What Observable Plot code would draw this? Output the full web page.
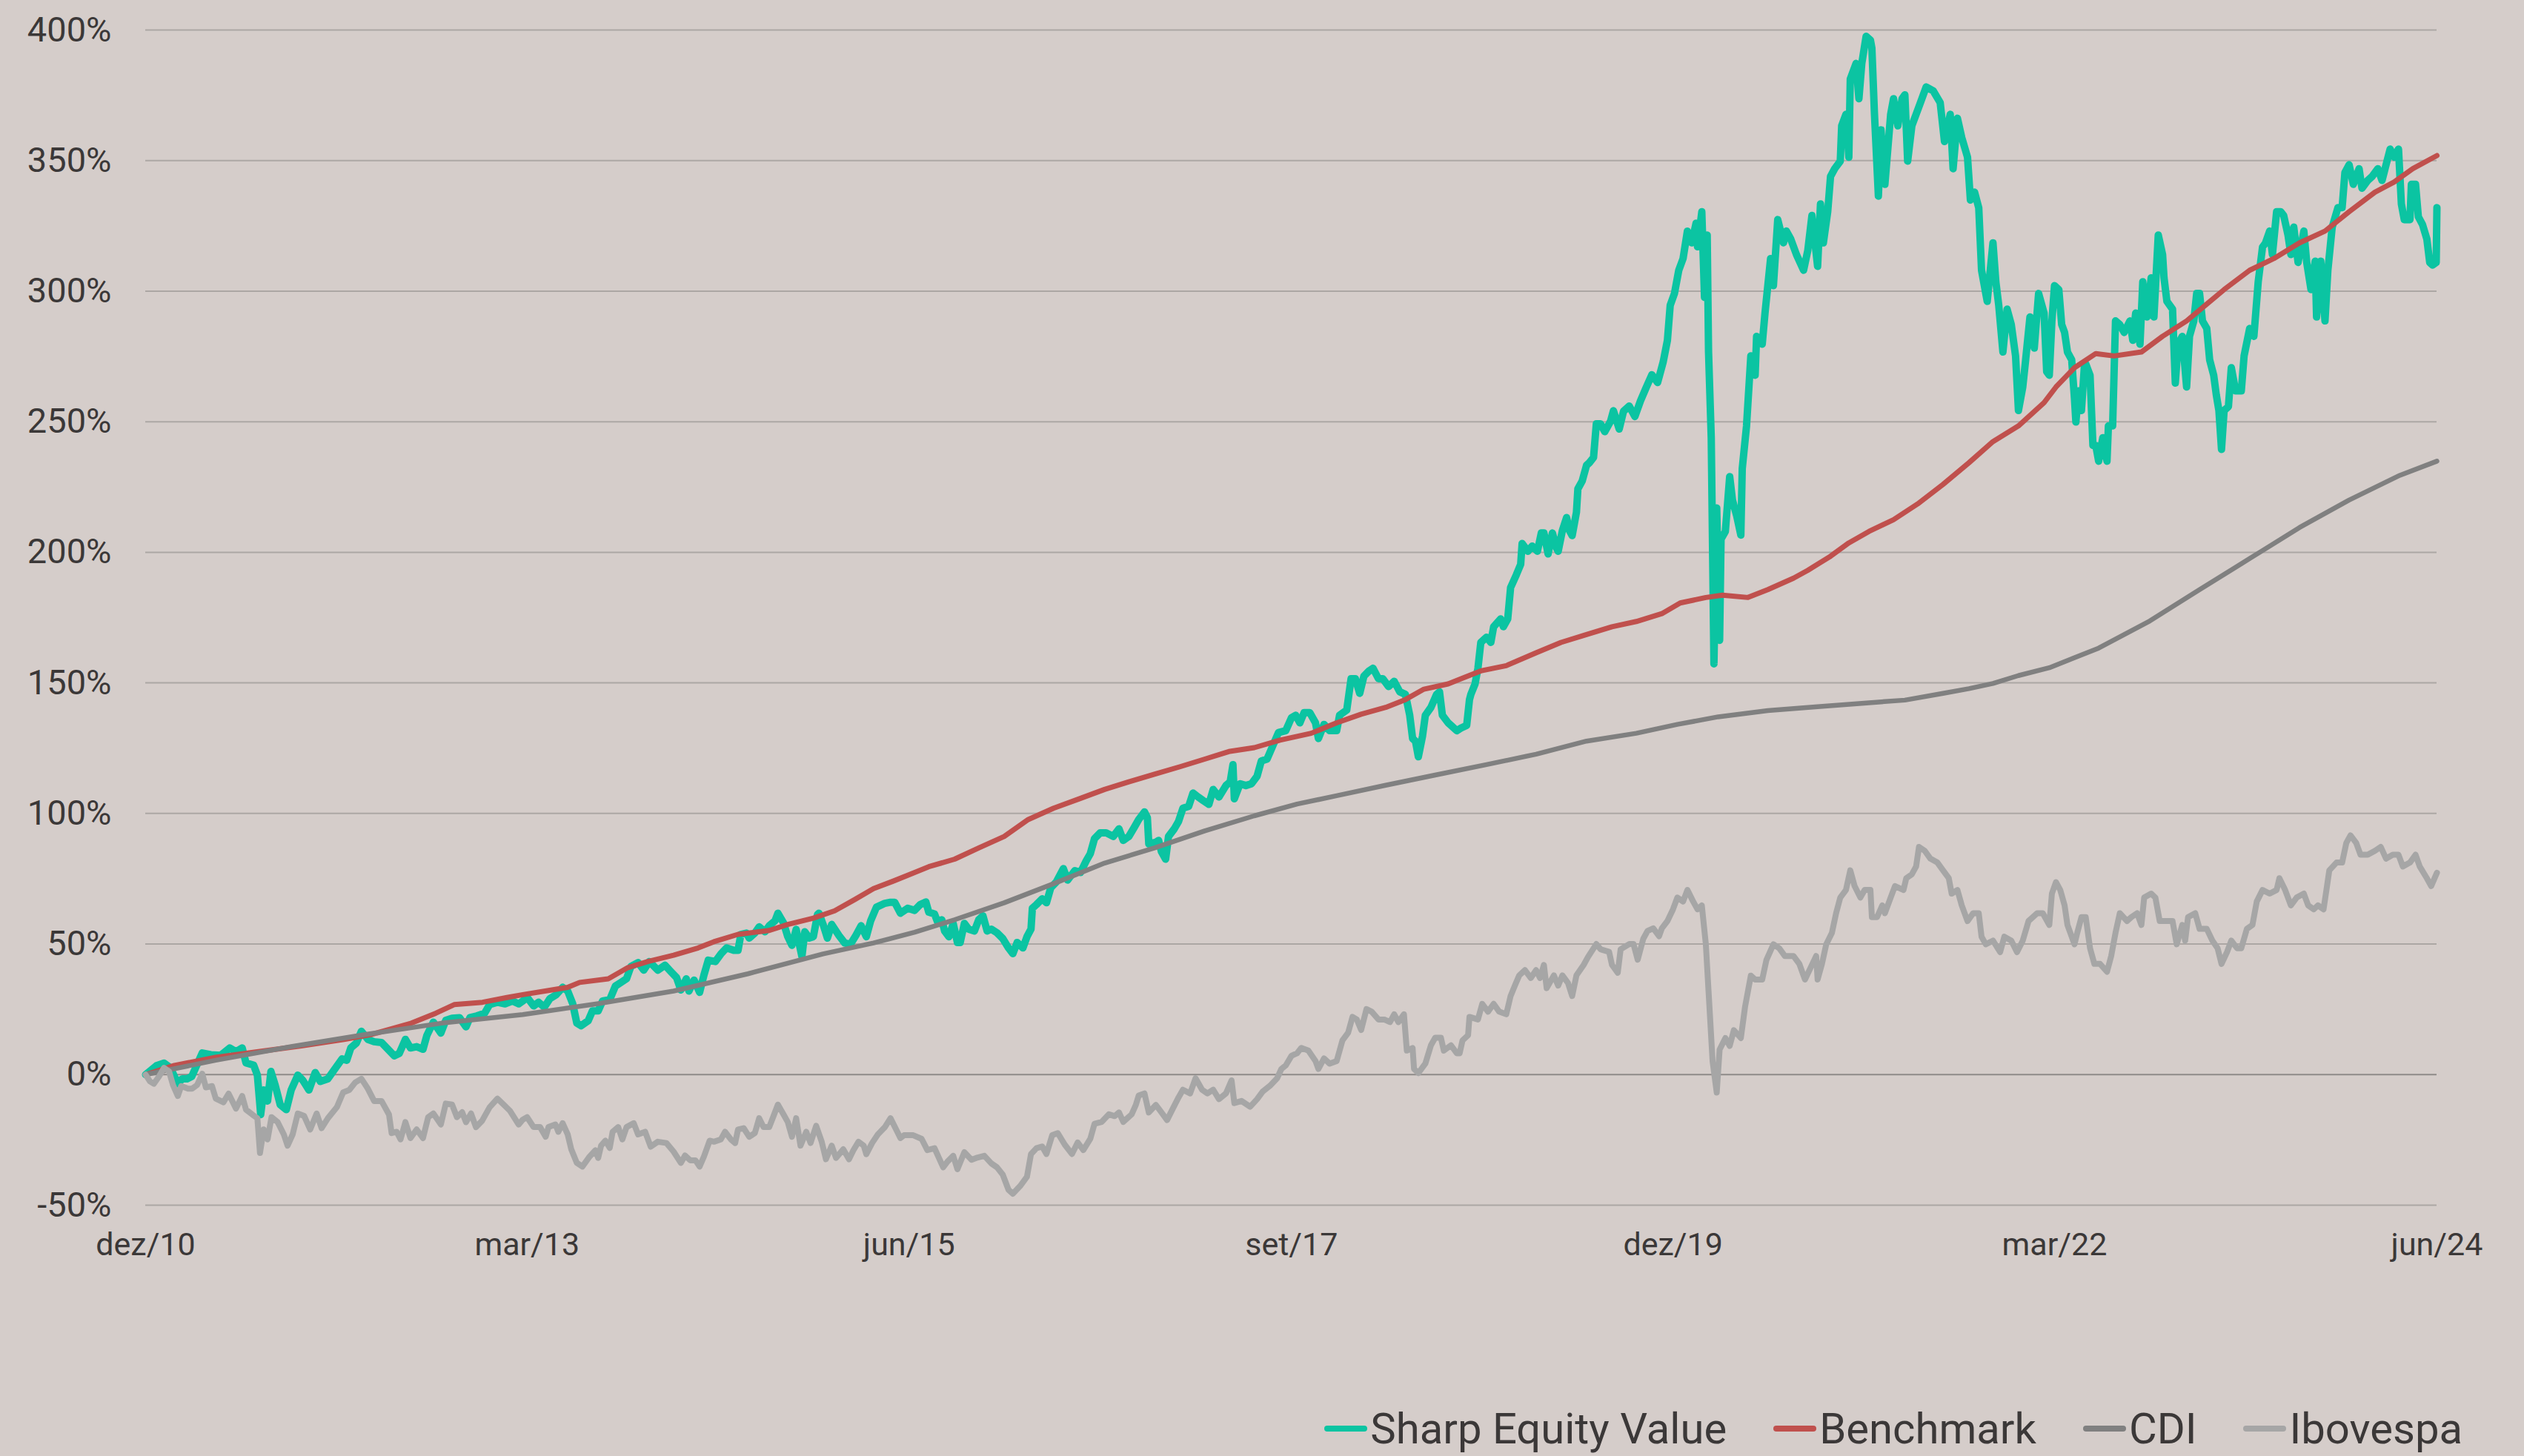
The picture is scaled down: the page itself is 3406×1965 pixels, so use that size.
<!DOCTYPE html>
<html><head><meta charset="utf-8">
<script src="https://cdn.jsdelivr.net/npm/d3@7"></script>
<script src="https://cdn.jsdelivr.net/npm/@observablehq/plot@0.6"></script>
<style>
html,body{margin:0;padding:0;background:#d5cdca;}
#wrap{position:relative;width:3406px;height:1965px;overflow:hidden;font-family:Roboto,sans-serif;color:#3b3838;background:#d5cdca;}
#chart svg{display:block;}
#legend{position:absolute;right:83px;top:1894px;display:flex;align-items:center;font-size:58px;line-height:normal;white-space:nowrap;}
.item{display:flex;align-items:center;margin-left:63px;}
.item:first-child{margin-left:0;}
.sw{width:58px;height:8px;border-radius:4px;margin-right:4px;}
</style></head>
<body><div id="wrap"><div id="chart"></div><div id="legend"></div></div>
<script>
// Series: [months after dez/10, cumulative return in %]
const seriesNames = ["Sharp Equity Value", "Benchmark", "CDI", "Ibovespa"];
const seriesColors = ["#0bc4a2", "#c0504d", "#808080", "#a6a6a6"];
const xTickMonths = [0, 27, 54, 81, 108, 135, 162];
const xTickLabels = ["dez/10", "mar/13", "jun/15", "set/17", "dez/19", "mar/22", "jun/24"];
const yTicks = [-50, 0, 50, 100, 150, 200, 250, 300, 350, 400];

const sharpEquity = [
[0,0],[0.75,3.4],[1.28,4.4],[1.72,2.6],[2.26,-3.5],[2.6,-1.6],[2.97,-1.6],[3.3,-0.7],[4.03,8.3],[4.65,7.6],[5.35,7.4],[5.97,10.2],[6.42,8.8],[6.86,10.2],[7.13,4.5],[7.66,3.6],[7.92,-0.2],[8.15,-15.3],[8.36,-5.9],[8.63,-10.1],[8.86,1.2],[9.16,-4],[9.52,-11.5],[9.96,-13.4],[10.3,-5.9],[10.76,-0.2],[11.1,-2.1],[11.55,-5.9],[12.0,0.8],[12.35,-2.6],[12.88,-1.6],[13.3,1.7],[13.86,6],[14.2,5.5],[14.5,10.2],[14.92,12.1],[15.27,16.6],[15.72,13.5],[16.16,12.6],[16.69,12.3],[17.22,9.3],[17.58,7.2],[17.93,8.1],[18.37,13.5],[18.73,10.2],[19.17,10.7],[19.61,9.7],[19.88,15],[20.33,20.1],[20.85,15.9],[21.2,20.8],[21.65,21.6],[22.18,21.8],[22.63,18.3],[22.9,21.8],[23.4,22.5],[23.95,23.5],[24.3,26.8],[24.84,27.7],[25.37,27.1],[25.9,28.2],[26.35,27.1],
[26.67,28.2],[27.0,29.6],[27.45,26.3],[27.8,27.7],[28.2,25.8],[28.6,29.1],[29.05,30.6],[29.5,33.4],[29.85,32],[30.2,27.2],[30.5,19.7],[30.8,18.7],[31.3,20.6],[31.6,24.4],[32.0,24.4],[32.3,28.2],[32.8,28.7],[33.2,33.9],[33.6,35.3],[34.0,36.7],[34.3,41.4],[34.8,42.9],[35.2,40],[35.6,43.3],[36.2,40],[36.7,41.9],[37.1,39.5],[37.5,37.2],[37.8,32.4],[38.2,36.7],[38.4,32],[38.8,36.2],[39.2,31.5],[39.5,38.1],[39.8,43.8],[40.3,43.3],[40.7,46.2],[41.1,48.5],[41.6,47.6],[41.9,47.6],[42.1,53.7],[42.5,54.2],[42.7,52.3],[43.1,54.2],[43.4,56.6],[43.8,54.7],[44.1,57],[44.5,58.9],[44.7,61.8],[45.1,58],[45.4,52.8],[45.7,49.5],[46.0,55.6],[46.2,50.4],[46.4,45.2],[46.6,54.7],[46.9,52.3],[47.2,52.8],[47.5,61.3],[47.6,61.8],[47.9,57.5],[48.2,52.3],[48.5,57.5],[49.0,53.3],[49.4,50.4],[49.8,49.9],[50.2,53.3],[50.6,57],[51.0,52.8],[51.3,58.9],[51.7,64.1],[52.3,65.6],[52.7,66],[53.0,66],[53.4,61.8],[53.9,63.7],
[54.4,62.9],[54.8,65.1],[55.2,66.1],[55.4,62.2],[55.8,61.5],[56.0,58.6],[56.3,59.3],[56.5,55],[56.8,52.8],[57.1,57.9],[57.4,50.6],[57.6,50.6],[57.9,57.9],[58.2,55.7],[58.6,55],[58.9,59.3],[59.2,60.8],[59.5,55],[59.8,55.7],[60.2,54.3],[60.6,52.1],[61.0,48.5],[61.3,46.3],[61.6,50.6],[62.0,48.5],[62.3,52.8],[62.6,55.7],[62.7,63.7],[63.0,65.1],[63.4,67.3],[63.7,65.8],[64.0,71.6],[64.4,73.8],[64.9,78.9],[65.2,74.5],[65.7,78.1],[66.1,77.4],[66.5,81.8],[66.8,84.6],[67.1,90.4],[67.5,92.6],[67.9,92.6],[68.4,91.2],[68.8,94.1],[69.1,89.7],[69.5,91.2],[69.9,94.8],[70.2,97.7],[70.6,100.6],[70.8,98.4],[70.9,88.3],[71.4,89],[71.6,89.7],[71.8,85.4],[72.1,82.5],[72.3,91.2],[72.7,94.1],[73.0,97],[73.3,102],[73.7,102.7],[74.0,107.8],[74.4,106.3],[74.8,104.9],[75.2,103.5],[75.5,109.2],[75.9,106.3],[76.4,110.7],[76.7,112.1],[76.9,118.7],[77.0,105.6],[77.4,111.4],[77.8,110.7],[78.2,111.4],[78.6,114.3],[78.9,120.1],[79.3,120.8],[79.7,125.9],[80.1,131],
[80.6,131.7],[81.0,136.7],[81.3,137.6],[81.6,134.7],[81.9,138.6],[82.3,138.6],[82.7,134.7],[82.9,128.7],[83.3,134.1],[83.7,131.7],[84.2,131.7],[84.4,137.6],[84.9,139.6],[85.2,151.6],[85.5,151.6],[85.8,146],[86.1,152.6],[86.5,154.6],[86.8,155.6],[87.2,151.6],[87.5,151.6],[87.9,148.6],[88.3,150.6],[88.7,146.6],[89.1,145.6],[89.4,137.6],[89.6,128.7],[89.8,127.7],[90.0,121.7],[90.3,129.7],[90.5,137.6],[90.9,140.6],[91.3,145.6],[91.5,146.6],[91.7,137.6],[92.1,134.7],[92.3,133.7],[92.7,131.7],[93.0,132.7],[93.4,133.7],[93.6,143.6],[93.7,145.6],[94.0,149.6],[94.2,155.6],[94.4,165.5],[94.8,167.5],[95.1,165.5],[95.3,171.5],[95.8,174.5],[96.0,171.5],[96.3,174.5],[96.4,180.5],[96.5,186.5],[96.9,191.4],[97.2,195.4],[97.3,203.4],[97.7,200.4],[98.0,202.4],[98.4,200.4],[98.7,207.4],[98.9,207.4],[99.2,199.4],[99.5,207.4],[99.8,201.4],[99.9,200.4],[100.2,208.4],[100.5,213.3],[100.7,208.4],[100.9,206.4],[101.2,215.3],[101.3,224.3],[101.6,227.3],[101.9,233.3],[102.1,234.3],[102.4,236.3],[102.6,249.2],[102.9,249.2],[103.2,246.2],[103.6,250.2],[103.8,254.2],[104.2,247.2],[104.5,254],
[104.9,256],[105.3,252],[105.7,258],[106.1,263],[106.5,268],[106.9,265],[107.3,273],
[107.6,281.2],[107.8,294.6],[108.1,299.1],[108.4,308],[108.7,312.5],[109.0,323],[109.3,318.5],[109.6,326],[109.7,317],[110.0,330.4],[110.2,297.6],[110.4,321.5],[110.5,276.7],[110.7,243.9],[110.9,157.3],[111.1,217],[111.3,166.3],[111.4,205.1],[111.7,208],[112.0,229],[112.2,220],[112.5,214],[112.8,206.6],[112.9,232],[113.2,248.3],[113.5,275.2],[113.8,267.8],[113.9,282.7],[114.3,279.7],[114.5,291.6],[114.9,312.5],[115.1,302.1],[115.4,327.4],[115.8,318.5],[116.0,323],[116.3,320],[116.7,314],[117.2,308],[117.5,315.5],[117.8,329],[118.2,309.5],[118.4,333.4],[118.6,318.5],[118.9,330.4],[119.1,343.9],[119.4,346.9],[119.8,349.8],[119.9,363.3],[120.2,367.7],[120.4,351.3],[120.5,381.2],[120.9,387.2],[121.1,373.7],[121.3,387.2],[121.6,397.6],[121.9,396.1],[122.0,393.1],[122.2,367.7],[122.5,336.4],[122.7,361.8],[123.0,340.9],[123.4,367.7],[123.6,373.7],[123.9,363.3],[124.2,373.7],[124.4,375.2],[124.6,349.8],[124.9,363.3],[125.2,367.7],[125.5,372.2],[125.9,378.2],[126.4,376.7],[126.9,372.2],[127.2,357.3],[127.6,367.7],[127.8,346.9],[128.1,366.2],[128.4,358.8],[128.8,351.3],[129.0,334.9],[129.3,337.9],[129.6,331.9],[129.8,308],[130.1,299.1],[130.2,296.1],[130.5,313],[130.6,318.5],[130.8,303.6],[131.0,294.6],[131.3,276.7],[131.6,293.1],[131.9,287.2],[132.2,275.2],[132.4,254.3],[132.7,263.3],[132.9,273.7],[133.2,290.1],[133.5,278.2],[133.8,299.1],[134.2,291.6],[134.4,269.2],
[134.6,267.8],[134.8,288.6],[135.0,302.1],[135.3,300.6],[135.5,287.2],[135.7,284.2],[135.9,276.7],[136.2,273.7],[136.4,258.8],[136.5,249.9],[136.7,261.8],[136.9,254.3],[137.1,270.7],[137.2,272.2],[137.5,267.8],[137.7,240.9],[137.9,240.9],[138.1,234.9],[138.4,243.9],[138.7,234.9],[138.8,248.4],[139.1,248.4],[139.3,288.6],[139.6,287.2],[139.9,284.2],[140.3,288.6],[140.5,281.2],[140.7,291.6],[141.0,279.7],[141.2,303.6],[141.5,290.1],[141.8,305.1],[142.0,290.1],[142.3,321.5],[142.6,314],[142.7,305.1],[142.9,296.1],[143.3,293.1],[143.5,264.8],[143.7,279.7],[144.0,282.7],[144.3,263.3],[144.5,282.7],[144.8,288.6],[145.0,299.1],[145.2,299.1],[145.4,288.6],[145.7,285.7],[145.9,273.7],[146.2,267.8],[146.4,260.3],[146.6,254.3],[146.8,239.4],[147.0,254.3],[147.3,255.8],[147.5,270.7],[147.8,261.8],[148.2,261.8],[148.4,275.2],[148.8,285.7],[149.1,282.7],[149.4,303.6],[149.7,316.9],[149.9,318.4],[150.2,323],[150.4,314],[150.7,330.4],[151.0,330.4],[151.2,329],[151.5,321.5],[151.7,314],[151.9,324.5],[152.2,311],[152.6,323],[152.8,311],[153.1,300.6],[153.4,311.5],[153.5,290.1],[153.8,311.5],[154.1,288.6],[154.3,308],[154.6,324.5],[155.0,332],[155.3,332],[155.5,345.4],[155.8,348.4],[156.1,340.9],[156.5,346.9],[156.7,339.4],[157.1,342.4],[157.4,343.9],[157.8,346.9],[158.1,342.4],[158.4,348.4],[158.7,354.4],[159.0,351.3],[159.3,354.4],[159.5,333.4],[159.7,327.4],[160.1,327.4],[160.2,340.9],[160.5,340.9],[160.7,328.5],[161.0,325.5],[161.3,320],[161.5,311],[161.7,310],[161.95,311],[162,332]
];

const benchmark = [
[0,0],[2,3.5],[5,6.6],[8,8.8],[11,11],[14,13.5],[16,15.4],[18.8,19.7],[20.5,23.5],[21.8,26.8],[23.8,27.7],[25.5,29.5],[26.67,30.6],[29.85,33.4],[30.7,35.3],[32.7,36.7],[34.1,41],[35.5,43.3],[37.3,45.7],[39.1,48.5],[40.2,50.9],[41.9,53.7],[44.1,55.2],[45.4,57.5],[47.2,59.9],[48.7,62.7],[50.1,67],[51.5,71.2],[52.9,74.1],[54.4,77.4],[55.4,79.6],[57.2,82.5],[58.9,86.8],[60.7,91.2],[62.4,97.7],[64.2,102],[66.0,105.6],[67.8,109.2],[69.5,112.1],[71.3,115],[73.1,117.9],[74.9,120.8],[76.6,123.7],[78.4,125.2],[80.2,128.1],[82.4,130.7],[84.2,134.7],[85.9,138],[87.7,140.6],[89.1,143.6],[90.4,147.6],[92.1,149.6],[93.0,151.6],[94.4,154.6],[96.2,156.6],[98.3,161.5],[100.1,165.5],[101.9,168.5],[103.7,171.5],[105.4,173.5],[107.2,176.5],[108.5,180.6],[110.3,182.7],[111.5,183.6],[113.3,182.7],[114.7,185.7],[116.5,190.1],[117.5,193.1],[119.1,198.5],[120.4,203.6],[121.8,208],[123.6,212.5],[125.3,218.5],[127.1,226],[128.9,234.3],[130.6,242.4],[132.4,248.4],[134.2,257.3],[135.1,263.3],[136.4,270.7],[137.9,276.1],[139.2,275.2],[141.1,276.7],[142.6,282.7],[144.3,288.6],[145.6,294.6],[147.0,300.6],[148.8,308],[150.5,312.5],[152.3,318.5],[154.1,323],[155.8,330.4],[157.6,337.9],[159.0,341.8],[160.3,346.9],[162,351.9]
];

const cdi = [
[0,0],[5,5.5],[10.3,10.7],[15.6,15.4],[20.9,19.7],[26.67,23],[32,27.2],[37.3,32],[42.6,38.6],[47.9,46.2],[51.5,50.4],[54.4,54.5],[57.2,59.3],[60.7,65.8],[64.2,73.1],[67.8,81],[71.3,86.8],[74.9,93.3],[78.4,99.1],[81.4,103.6],[84.2,106.8],[87.7,110.8],[91.2,114.7],[94.8,118.7],[98.3,122.7],[101.9,127.7],[105.4,130.7],[108.3,134.1],[111.2,137],[114.7,139.4],[118.2,140.9],[121.8,142.4],[124.4,143.4],[127.1,146],[128.9,147.8],[130.6,149.8],[132.4,152.8],[134.6,155.8],[138.1,163.3],[141.7,173.7],[145.2,185.7],[148.8,197.6],[152.3,209.5],[155.8,220],[159.4,229.5],[162,234.9]
];

const ibovespa = [
[0,0],[0.3,-2.6],[0.57,-3.5],[0.93,-0.7],[1.28,2.6],[1.63,1.2],[1.9,-4],[2.26,-8.2],[2.52,-4.4],[3.05,-5.4],[3.32,-5.4],[3.67,-4],[4.03,0.3],[4.29,-4.9],[4.73,-4.4],[5.0,-9.2],[5.53,-10.6],[5.89,-7.3],[6.42,-13],[6.86,-8.2],[7.13,-13.4],[7.57,-15.3],[7.92,-16.7],[8.1,-30],[8.36,-21],[8.63,-24.8],[8.9,-16.3],[9.34,-18.2],[9.78,-22.9],[10.05,-27.2],[10.4,-22.9],[10.76,-14.9],[11.2,-15.8],[11.64,-21],[12.1,-14.9],[12.44,-20.5],[12.88,-16.7],[13.5,-12.5],[13.94,-6.8],[14.39,-5.9],[14.83,-3],[15.27,-1.6],[15.72,-5.4],[16.16,-10.1],[16.69,-10.1],[17.22,-15.3],[17.4,-22.4],[17.75,-21.9],[18.02,-24.8],[18.37,-18.2],[18.73,-24.3],[19.17,-21],[19.61,-24.3],[19.97,-16.3],[20.33,-14.9],[20.85,-19.1],[21.2,-11.1],[21.65,-11.5],[22.0,-16.3],[22.36,-14.4],[22.63,-18.2],[22.98,-14.9],[23.33,-20.1],[23.77,-17.7],[24.3,-12.5],[24.84,-9.2],[25.28,-11.5],[25.72,-13.9],[26.35,-19.1],
[26.67,-17.2],[27.0,-16.3],[27.45,-20.1],[27.9,-20.1],[28.3,-23.8],[28.5,-20.1],[29.0,-19.1],[29.2,-21.9],[29.5,-18.6],[29.85,-22.9],[30.1,-28.6],[30.5,-33.8],[30.9,-35.2],[31.4,-31.4],[31.8,-29],[32.0,-31.9],[32.2,-27.2],[32.5,-25.3],[32.8,-28.1],[33.0,-21.9],[33.4,-20.1],[33.7,-24.8],[34.0,-20.1],[34.5,-18.6],[34.8,-22.9],[35.3,-21.9],[35.7,-27.6],[36.2,-25.7],[36.8,-26.2],[37.3,-29.5],[37.8,-33.8],[38.1,-31],[38.5,-32.8],[38.9,-32.8],[39.2,-35.2],[39.5,-31.4],[39.9,-25.3],[40.2,-25.7],[40.7,-24.8],[41.0,-21.9],[41.4,-24.8],[41.7,-26.2],[41.9,-21],[42.3,-20.5],[42.7,-23.8],[43.1,-22.4],[43.4,-16.7],[43.7,-20.1],[44.1,-20.1],[44.4,-15.8],[44.7,-11.5],[45.1,-15.3],[45.4,-18.2],[45.7,-23.8],[46.0,-16.7],[46.3,-27.2],[46.7,-21.9],[47.0,-26.2],[47.4,-19.6],[47.8,-25.7],[48.1,-32.4],[48.5,-27.2],[48.8,-31.9],[49.3,-28.6],[49.7,-32.4],[50.0,-29],[50.4,-25.7],[50.8,-27.2],[51.0,-30.5],[51.4,-26.2],[51.8,-22.9],[52.3,-20.1],[52.7,-16.7],[53.1,-21],[53.4,-24.3],
[53.65,-23.2],[54.3,-23.2],[54.9,-24.6],[55.3,-28.9],[55.8,-28.2],[56.4,-35.5],[56.7,-33.3],[57.1,-31.1],[57.4,-36.2],[57.9,-29.7],[58.4,-32.6],[58.8,-31.8],[59.3,-31.1],[59.8,-34],[60.2,-35.5],[60.6,-38.3],[61.0,-44.1],[61.3,-45.6],[61.8,-42.7],[62.3,-39.1],[62.6,-30.4],[63.0,-28.2],[63.4,-27.5],[63.7,-30.4],[64.1,-23.2],[64.5,-22.4],[65.0,-26.8],[65.5,-30.4],[65.9,-26],[66.3,-28.9],[66.8,-24.6],[67.1,-18.8],[67.6,-18.1],[68.1,-15.2],[68.5,-15.9],[68.8,-14.5],[69.1,-18.1],[69.7,-15.2],[70.0,-11.6],[70.2,-8],[70.6,-7.2],[70.9,-14.5],[71.4,-11.6],[71.7,-13.7],[72.2,-17.4],[72.6,-13],[73.0,-8.7],[73.3,-5.8],[73.8,-7.2],[74.2,-1.4],[74.7,-5.8],[75.1,-7.2],[75.5,-5.8],[75.9,-9.4],[76.4,-7.2],[76.8,-2.2],[77.0,-10.9],[77.5,-10.1],[78.1,-12.3],[78.6,-9.4],[79.0,-6.5],[79.5,-4.3],[80.0,-1.4],[80.3,2.2],
[80.6,3.5],[81.0,7.2],[81.4,8.2],[81.7,10.2],[82.2,9.2],[82.7,5.2],[82.9,2.2],[83.3,6.2],[83.7,4.2],[84.2,5.2],[84.6,13.1],[85.0,16.1],[85.3,22.1],[85.6,21.1],[85.9,17.1],[86.3,25.1],[86.7,24.1],[87.2,21.1],[87.6,21.1],[88.0,20.1],[88.3,23.1],[88.6,20.1],[89.0,23.1],[89.2,9.2],[89.6,10.2],[89.7,2.2],[90.0,0.6],[90.5,4.2],[90.9,11.2],[91.2,14.1],[91.6,14.1],[91.8,9.2],[92.3,11.2],[92.7,8.2],[92.9,8.2],[93.1,13.1],[93.5,15.1],[93.6,22.1],[94.2,21.1],[94.5,27.1],[94.9,24.1],[95.3,27.1],[95.7,24.1],[96.2,23.1],[96.5,30.1],[96.8,34.1],[97.1,38],[97.5,40],[97.9,37],[98.3,40],[98.6,37],[98.9,42],[99.1,33.1],[99.6,38],[99.9,34.1],[100.2,38],[100.6,35.1],[100.9,30.1],[101.2,38],[101.7,42],[102.0,45],[102.6,50],[102.9,48],[103.5,47],[103.7,42],[104.1,39],[104.3,48],[104.9,50],[105.2,50],[105.5,44],[105.9,52],[106.2,55],[106.6,56],[107.0,53],[107.2,56],
[107.6,58.8],[108.0,63.3],[108.3,67.8],[108.7,66.3],[109.0,70.7],[109.4,66.3],[109.7,63.3],[110.0,64.8],[110.3,49.9],[110.5,31.9],[110.8,5.1],[111.1,-6.9],[111.3,9.6],[111.7,14],[112.0,11],[112.3,17],[112.8,14],[113.1,26],[113.5,37.9],[113.8,36.4],[114.3,36.4],[114.6,43.9],[115.1,49.9],[115.5,48.4],[115.9,45.4],[116.5,45.4],[116.9,42.4],[117.3,36.4],[117.7,40.9],[118.1,45.4],[118.2,36.4],[118.5,42.4],[118.8,49.9],[119.2,54.3],[119.5,61.8],[119.8,67.8],[120.2,70.7],[120.5,78.2],[120.8,72.2],[121.2,67.8],[121.5,70.7],[121.9,70.7],[122.0,60.3],[122.4,60.3],[122.8,64.8],[123.0,61.8],[123.4,67.8],[123.7,72.2],[124.3,70.7],[124.5,75.2],[124.9,76.7],[125.2,79.7],[125.4,87.2],[125.8,85.7],[126.2,82.7],[126.7,81.2],[127.1,78.2],[127.5,75.2],[127.7,69.3],[128.1,70.7],[128.4,64.8],[128.8,58.8],[129.2,61.8],[129.6,61.8],[129.8,52.8],[130.1,49.9],[130.6,51.3],[131.1,46.9],[131.4,52.8],[131.9,51.3],[132.3,46.9],[132.7,51.3],[133.1,58.8],[133.7,61.8],[134.1,61.8],
[134.6,57.3],[134.8,69.3],[135.1,73.7],[135.4,70.7],[135.7,64.8],[135.9,57.3],[136.4,49.9],[136.6,54.3],[136.9,60.3],[137.2,60.3],[137.5,48.4],[137.8,42.4],[138.2,42.4],[138.7,39.4],[139.0,45.4],[139.3,54.3],[139.6,61.8],[140.1,58.8],[140.4,60.3],[140.8,61.8],[141.1,57.3],[141.3,67.8],[141.8,69.3],[142.1,67.8],[142.4,58.8],[142.8,58.8],[143.3,58.8],[143.6,49.9],[144.0,57.3],[144.2,51.3],[144.4,60.3],[144.9,61.8],[145.2,55.8],[145.7,55.8],[146.1,51.3],[146.5,48.4],[146.8,42.4],[147.2,46.9],[147.5,51.3],[147.9,48.4],[148.2,48.4],[148.6,55.8],[149.0,57.3],[149.3,66.3],[149.7,70.7],[150.2,69.3],[150.7,70.7],[150.9,75.2],[151.3,70.7],[151.7,64.8],[152.1,67.8],[152.6,69.3],[152.9,64.8],[153.3,63.3],[153.6,64.8],[154.0,63.3],[154.2,70.7],[154.4,78.2],[154.9,81.2],[155.3,81.2],[155.6,88.7],[155.9,91.6],[156.3,88.7],[156.6,84.2],[157.1,84.2],[157.6,85.7],[158.0,87.2],[158.4,82.7],[158.9,84.2],[159.3,84.2],[159.6,79.7],[160.1,81.2],[160.5,84.2],[160.8,79.7],[161.3,75.2],[161.6,72.2],[162,77.3]
];

const seriesData = [sharpEquity, benchmark, cdi, ibovespa];
const seriesWidths = [10, 7, 6.5, 8];

const t0 = new Date(Date.UTC(2010, 11, 1));
function toDate(m) {
  const i = Math.floor(m), f = m - i;
  const a = d3.utcMonth.offset(t0, i), b = d3.utcMonth.offset(t0, i + 1);
  return new Date(+a + f * (b - a));
}
const xTickDates = xTickMonths.map(toDate);

const lineMarks = seriesData.map((data, k) => Plot.line(data, {
  x: d => toDate(d[0]), y: d => d[1],
  stroke: seriesColors[k], strokeWidth: seriesWidths[k],
  strokeLinejoin: "round", strokeLinecap: "round"
}));

const chart = Plot.plot({
  width: 3406, height: 1750,
  marginLeft: 196, marginRight: 118, marginTop: 40, marginBottom: 124,
  style: {background: "transparent", fontFamily: "Roboto, sans-serif", color: "#3b3838", overflow: "visible"},
  x: {type: "utc", domain: [toDate(0), toDate(162)]},
  y: {domain: [-50, 400]},
  marks: [
    Plot.ruleY(yTicks.filter(d => d !== 0), {stroke: "#aca7a4", strokeWidth: 2}),
    Plot.ruleY([0], {stroke: "#8e8a88", strokeWidth: 2}),
    Plot.axisY({ticks: yTicks, tickFormat: d => d + "%", tickSize: 0, tickPadding: 46, fontSize: 47, label: null}),
    Plot.axisX({ticks: xTickDates, tickFormat: d => xTickLabels[xTickDates.findIndex(t => +t === +d)], tickSize: 0, tickPadding: 37, fontSize: 43, label: null}),
    ...lineMarks
  ]
});
document.getElementById("chart").appendChild(chart);

const legend = document.getElementById("legend");
seriesNames.forEach((name, k) => {
  const item = document.createElement("div");
  item.className = "item";
  const sw = document.createElement("span");
  sw.className = "sw";
  sw.style.background = seriesColors[k];
  const label = document.createElement("span");
  label.textContent = name;
  item.appendChild(sw); item.appendChild(label);
  legend.appendChild(item);
});
</script></body></html>
